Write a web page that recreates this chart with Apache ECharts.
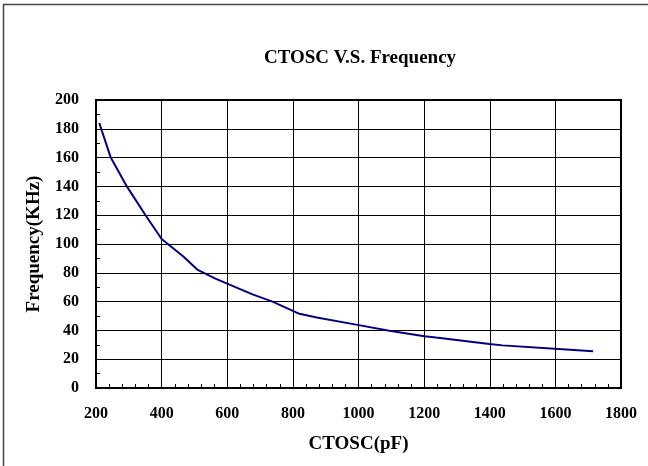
<!DOCTYPE html>
<html>
<head>
<meta charset="utf-8">
<script src="https://cdn.jsdelivr.net/npm/echarts@6/dist/echarts.min.js"></script>
<style>
  html, body { margin: 0; padding: 0; background: #fff; }
  #chart { width: 648px; height: 466px; }
</style>
</head>
<body>
<div id="chart"></div>
<script>
// capacitance (pF) vs oscillator frequency (KHz)
const ctosc = [210, 245, 294, 351, 400, 468, 510, 564, 677, 738, 820, 873, 1005, 1094, 1201, 1236, 1399, 1439, 1598, 1715];
const freq  = [184, 160, 140, 120, 103.5, 91, 82, 76, 65, 60, 51.5, 49, 43.5, 39.7, 36, 35, 30.5, 29.6, 27.2, 25.6];

const serif = '"Liberation Serif", "DejaVu Serif", serif';

const chart = echarts.init(document.getElementById('chart'));

chart.setOption({
  animation: false,
  title: {
    text: 'CTOSC V.S. Frequency',
    left: 355,
    top: 44,
    textAlign: 'center',
    textStyle: { fontFamily: serif, fontWeight: 'bold', fontSize: 19, color: '#000' }
  },
  grid: {
    left: 96,
    top: 100,
    width: 525,
    height: 288,
    show: true,
    borderColor: '#000',
    borderWidth: 2
  },
  xAxis: {
    type: 'value',
    min: 200,
    max: 1800,
    interval: 200,
    name: 'CTOSC(pF)',
    nameLocation: 'middle',
    nameGap: 47,
    nameTextStyle: { fontFamily: serif, fontWeight: 'bold', fontSize: 19, color: '#000' },
    axisLine: { lineStyle: { color: '#000', width: 2 } },
    axisTick: { show: true, inside: true, length: 4, lineStyle: { color: '#000' } },
    minorTick: { show: true, splitNumber: 5, length: 4, lineStyle: { color: '#000' } },
    axisLabel: { margin: 18, fontFamily: serif, fontWeight: 'bold', fontSize: 16, color: '#000', formatter: v => String(v) },
    splitLine: { show: true, lineStyle: { color: '#000', width: 1 } }
  },
  yAxis: {
    type: 'value',
    min: 0,
    max: 200,
    interval: 20,
    name: 'Frequency(KHz)',
    nameLocation: 'middle',
    nameGap: 52,
    nameTextStyle: { fontFamily: serif, fontWeight: 'bold', fontSize: 19, color: '#000' },
    axisLine: { lineStyle: { color: '#000', width: 2 } },
    axisTick: { show: true, inside: true, length: 4, lineStyle: { color: '#000' } },
    minorTick: { show: true, splitNumber: 2, length: 4, lineStyle: { color: '#000' } },
    axisLabel: { margin: 17, fontFamily: serif, fontWeight: 'bold', fontSize: 16, color: '#000' },
    splitLine: { show: true, lineStyle: { color: '#000', width: 1 } }
  },
  graphic: [{
    type: 'rect',
    shape: { x: 3.5, y: 4.5, width: 700, height: 700 },
    style: { fill: 'none', stroke: '#444', lineWidth: 1.5 },
    silent: true
  }],
  series: [{
    type: 'line',
    data: ctosc.map((c, i) => [c, freq[i]]),
    showSymbol: false,
    smooth: false,
    lineStyle: { color: '#000080', width: 2 }
  }]
});
</script>
</body>
</html>
